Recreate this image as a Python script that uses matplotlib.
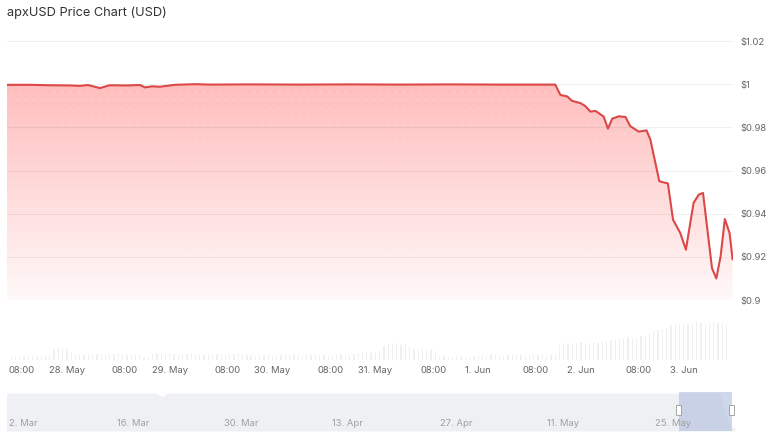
import matplotlib
matplotlib.use("Agg")
import matplotlib.pyplot as plt
import matplotlib.transforms as mtransforms
from matplotlib.patches import Rectangle
import numpy as np

plt.rcParams['font.family'] = ['Inter', 'DejaVu Sans']

# ---- data -------------------------------------------------------------
title = "apxUSD Price Chart (USD)"

# price line: hours relative to 28 May 00:00, price in USD
price_hours = [-14.0, -8.6, -4.0, 0.7, 3.0, 4.9, 6.1, 7.7, 10.0, 13.6, 17.1,
               18.2, 19.9, 21.7, 25.2, 29.9, 33.4, 42.8, 54.4, 66.1, 77.8,
               89.5, 101.2, 114.0, 115.2, 116.8, 117.9, 119.9, 121.0, 122.2,
               123.4, 125.3, 126.3, 127.3, 128.8, 130.4, 131.5, 133.5, 135.3,
               136.2, 138.3, 140.3, 141.5, 143.2, 144.5, 146.3, 147.5, 148.5,
               150.6, 151.6, 152.6, 153.6, 154.7, 155.4]
price_vals = [0.9997, 0.9997, 0.9995, 0.9994, 0.9992, 0.9996, 0.9990, 0.9982,
              0.9995, 0.9994, 0.9996, 0.9985, 0.9990, 0.9988, 0.9997, 1.0000,
              0.9998, 0.9999, 0.9998, 0.9999, 0.9998, 0.9999, 0.9998, 0.9998,
              0.9950, 0.9943, 0.9923, 0.9912, 0.9899, 0.9873, 0.9876, 0.9850,
              0.9794, 0.9840, 0.9851, 0.9848, 0.9806, 0.9780, 0.9786, 0.9744,
              0.9550, 0.9540, 0.9372, 0.9310, 0.9233, 0.9450, 0.9488, 0.9496,
              0.9147, 0.9100, 0.9201, 0.9375, 0.9310, 0.9189]

# hourly volume bars (relative units), hours -13 .. 154
volume_start_hour = -13
volume_vals = [3, 4, 3, 4, 5, 4, 3, 4, 4, 5,
               11, 12, 12, 11,
               7, 6, 6, 5, 6, 7, 6, 6, 5, 6, 6, 7, 6, 5, 6, 6, 5,
               2, 3,
               6, 7, 6, 6, 7, 6, 5, 6, 6, 7, 6, 6, 5, 6, 7, 6, 6, 5, 6, 6, 7, 6, 5,
               5, 4, 5, 5, 6, 5, 4, 5, 5, 5, 6, 5, 4, 5, 5, 6, 5, 5, 4, 5, 5, 6, 5, 5,
               6, 7, 7, 8, 7, 8, 9,
               14, 16, 15, 17, 15, 16,
               12, 11, 10, 12, 11, 10, 9,
               3, 4, 2, 3, 4, 3, 3, 2,
               4, 5, 5, 4, 6, 5, 5, 4, 5, 6, 5, 5, 4, 5, 6, 5, 5, 4, 5, 6,
               15, 16, 17, 16, 17, 18, 17, 16, 18, 17, 18, 19,
               20, 21, 22, 22, 23, 22, 23, 24, 23,
               27, 29, 30, 31, 32,
               35, 36, 37, 37, 36, 37, 38, 37, 36, 37, 38, 37, 37, 36]

y_ticks = [0.90, 0.92, 0.94, 0.96, 0.98, 1.00, 1.02]
y_tick_labels = ["$0.9", "$0.92", "$0.94", "$0.96", "$0.98", "$1", "$1.02"]

day_hours = [0, 24, 48, 72, 96, 120, 144]
day_labels = ["28. May", "29. May", "30. May", "31. May", "1. Jun", "2. Jun", "3. Jun"]
morning_hours = [-10.5, 13.5, 37.5, 61.5, 85.5, 109.5, 133.5]
morning_label = "08:00"

# navigator: days since 2 Mar
nav_days = [0.0, 19.6, 20.3, 21.0, 87.0, 92.8, 93.8, 94.4, 94.8]
nav_vals = [1.0, 1.0, 0.99, 1.0, 1.0, 1.0, 0.93, 0.91, 0.91]
nav_tick_days = [0, 14, 28, 42, 56, 70, 84]
nav_tick_labels = ["2. Mar", "16. Mar", "30. Mar", "13. Apr", "27. Apr", "11. May", "25. May"]
nav_sel_start, nav_sel_end = 87.5, 94.4

# ---- figure -----------------------------------------------------------
W, H = 768, 440
fig = plt.figure(figsize=(W / 100, H / 100), dpi=100)


def frac(x0, y0, x1, y1):
    # pixel box -> figure fraction [left, bottom, width, height]
    return [x0 / W, 1 - y1 / H, (x1 - x0) / W, (y1 - y0) / H]


xmin, xmax = -14.0, 155.5
label_color = "#666666"

# main price axes
ax = fig.add_axes(frac(7, 41, 733, 300))
ax.set_xlim(xmin, xmax)
ax.set_ylim(0.9, 1.02)
for s in ax.spines.values():
    s.set_visible(False)
ax.set_xticks([])
ax.yaxis.tick_right()
ax.set_yticks(y_ticks)
ax.set_yticklabels(y_tick_labels)
ax.tick_params(axis='y', length=0, pad=5, labelsize=6.8, labelcolor=label_color)
for t in ax.get_yticklabels():
    t.set_horizontalalignment('left')

for y in y_ticks:
    ax.axhline(y, color=(0, 0, 0, 0.06), lw=0.7, zorder=2)

# gradient area under the line
poly = ax.fill_between(price_hours, price_vals, 0.9, facecolor='none',
                       edgecolor='none', zorder=1)
top_c = np.array([1.0, 0.74, 0.74])
bot_c = np.array([1.0, 0.975, 0.975])
t = np.linspace(0, 1, 256)[:, None]
grad = (top_c * (1 - t) + bot_c * t)[:, None, :]
im = ax.imshow(grad, extent=[xmin, xmax, 0.9, 1.001], aspect='auto',
               origin='upper', zorder=1, interpolation='bilinear')
im.set_clip_path(poly.get_paths()[0], transform=ax.transData)
plt.rcParams['hatch.linewidth'] = 0.5
ax.fill_between(price_hours, price_vals, 0.9, facecolor='none',
                edgecolor=(1, 1, 1, 0.12), hatch='..', linewidth=0, zorder=1.5)

ax.plot(price_hours, price_vals, color="#dc4848", lw=1.5, zorder=3,
        solid_joinstyle='round')

# volume axes
vax = fig.add_axes(frac(7, 318, 733, 360))
vax.set_xlim(xmin, xmax)
vax.set_ylim(0, 42)
for s in vax.spines.values():
    s.set_visible(False)
vax.set_yticks([])
vol_hours = np.arange(volume_start_hour, volume_start_hour + len(volume_vals))
vax.bar(vol_hours, volume_vals, width=0.3, color="#f0f0f0", linewidth=0)
vax.set_xticks(day_hours + morning_hours)
vax.set_xticklabels(day_labels + [morning_label] * len(morning_hours))
vax.tick_params(axis='x', length=0, pad=4, labelsize=6.8, labelcolor=label_color)

# navigator
nax = fig.add_axes(frac(7, 392, 735, 431))
nax.set_xlim(0.13, 94.8)
nax.set_ylim(0.9, 1.003)
for s in nax.spines.values():
    s.set_visible(False)
nax.set_xticks([])
nax.set_yticks([])
nax.fill_between(nav_days, nav_vals, 0.9, color="#eef0f4", linewidth=0)
nax.axvspan(nav_sel_start, nav_sel_end, color="#a9b9dc", alpha=0.55, lw=0)
trans = mtransforms.blended_transform_factory(nax.transData, nax.transAxes)
offset = mtransforms.ScaledTranslation(3 / 100, 0, fig.dpi_scale_trans)
for d, lab in zip(nav_tick_days, nav_tick_labels):
    nax.text(d, 0.2, lab, transform=trans + offset, ha='left', va='center',
             fontsize=6.8, color="#a0a0a0")
for xh in (nav_sel_start, nav_sel_end):
    nax.add_patch(Rectangle((xh - 0.33, 0.41), 0.66, 0.26, transform=trans,
                            facecolor="white", edgecolor="#999999", lw=0.6,
                            zorder=5))

fig.text(7 / W, 1 - 13 / H, title, ha='left', va='center', fontsize=9.2,
         color="#333333")

fig.savefig("out.png", dpi=100)
